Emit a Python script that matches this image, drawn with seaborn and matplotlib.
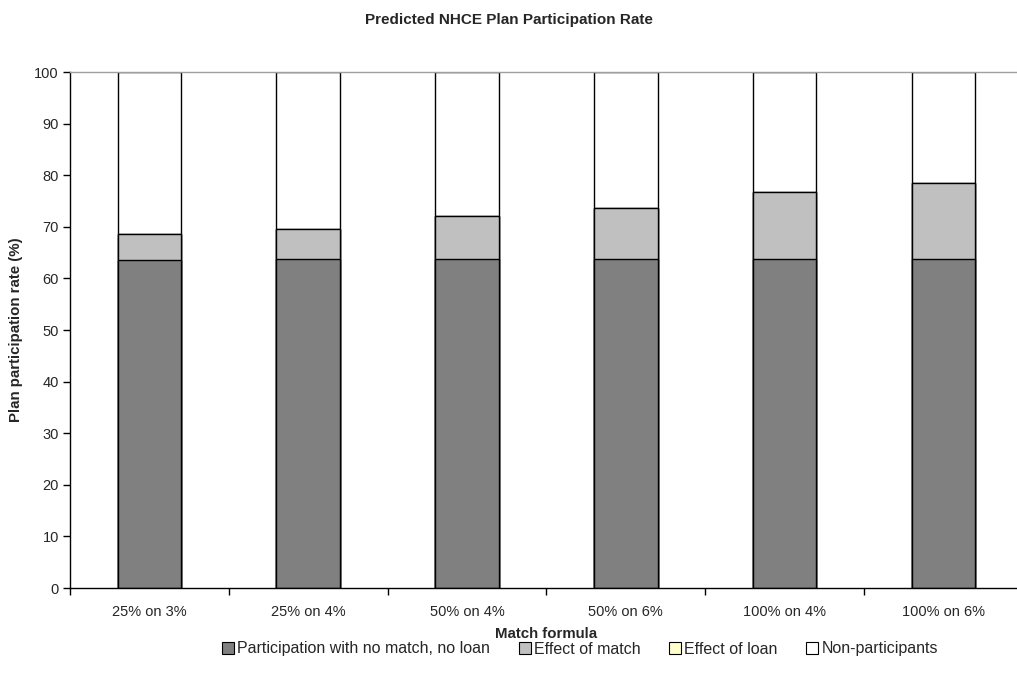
import numpy as np
import pandas as pd
import matplotlib
matplotlib.use("Agg")
import matplotlib.pyplot as plt
from matplotlib.patches import Patch
from matplotlib.ticker import FixedLocator, NullFormatter
import seaborn as sns

# Match formulas on the x axis
formulas = ["25% on 3%", "25% on 4%", "50% on 4%", "50% on 6%", "100% on 4%", "100% on 6%"]

# Stacked components of the participation rate (percentage points)
base_rate = [63.6, 63.7, 63.7, 63.7, 63.7, 63.7]       # participation with no match, no loan
match_effect = [5.0, 5.8, 8.3, 10.0, 13.1, 14.8]       # effect of match
loan_effect = [0.0, 0.0, 0.0, 0.0, 0.0, 0.0]           # effect of loan
series_names = ["Participation with no match, no loan", "Effect of match",
                "Effect of loan", "Non-participants"]
series_colors = ["#808080", "#C0C0C0", "#FFFFCC", "#FFFFFF"]

y_ticks = list(range(0, 101, 10))

sns.set_theme(style="white")
plt.rcParams["font.family"] = ["Liberation Sans", "DejaVu Sans"]

df = pd.DataFrame({
    "formula": formulas,
    "base": base_rate,
    "match": match_effect,
    "loan": loan_effect,
})
df["non"] = 100 - df["base"] - df["match"] - df["loan"]

# cumulative tops, drawn tallest first so shorter layers sit on top
layers = ["base", "match", "loan", "non"]
cum = df[layers].cumsum(axis=1)

fig = plt.figure(figsize=(10.17, 6.90), dpi=100)
ax = fig.add_axes([70 / 1017, 1 - 588 / 690, 952.8 / 1017, 516 / 690])

for layer, color in reversed(list(zip(layers, series_colors))):
    sns.barplot(x=df["formula"], y=cum[layer], order=formulas, color=color,
                saturation=1, width=0.4, edgecolor="black", linewidth=1.0, ax=ax)

ax.set_xlim(-0.5, len(formulas) - 0.5)
ax.set_ylim(0, 100)
ax.set_yticks(y_ticks)
ax.tick_params(axis="y", which="major", direction="out", length=5, width=1,
               color="black", labelsize=10.5, pad=3, left=True)
ax.tick_params(axis="x", which="major", length=0, labelsize=10.5, pad=12)
ax.xaxis.set_minor_locator(FixedLocator(np.arange(-0.5, len(formulas), 1.0)))
ax.xaxis.set_minor_formatter(NullFormatter())
ax.tick_params(axis="x", which="minor", direction="out", length=5, width=1,
               color="black", bottom=True)

for side in ["left", "bottom"]:
    ax.spines[side].set_color("black")
    ax.spines[side].set_linewidth(1.0)
for side in ["top", "right"]:
    ax.spines[side].set_color("#A0A0A0")
    ax.spines[side].set_linewidth(1.0)

ax.set_xlabel("Match formula", fontsize=10.8, fontweight="bold", labelpad=6)
ax.set_ylabel("Plan participation rate (%)", fontsize=10.8, fontweight="bold", labelpad=8)

fig.suptitle("Predicted NHCE Plan Participation Rate", fontsize=11,
             fontweight="bold", x=0.5, y=1 - 20 / 690, va="center")

handles = [Patch(facecolor=c, edgecolor="black", linewidth=0.8) for c in series_colors]
fig.legend(handles, series_names, loc="center", bbox_to_anchor=(580 / 1017, 1 - 649 / 690),
           ncol=4, frameon=False, fontsize=11.5, handlelength=0.75, handleheight=0.75,
           handletextpad=0.2, columnspacing=1.8)

fig.savefig("out.png", dpi=100)
